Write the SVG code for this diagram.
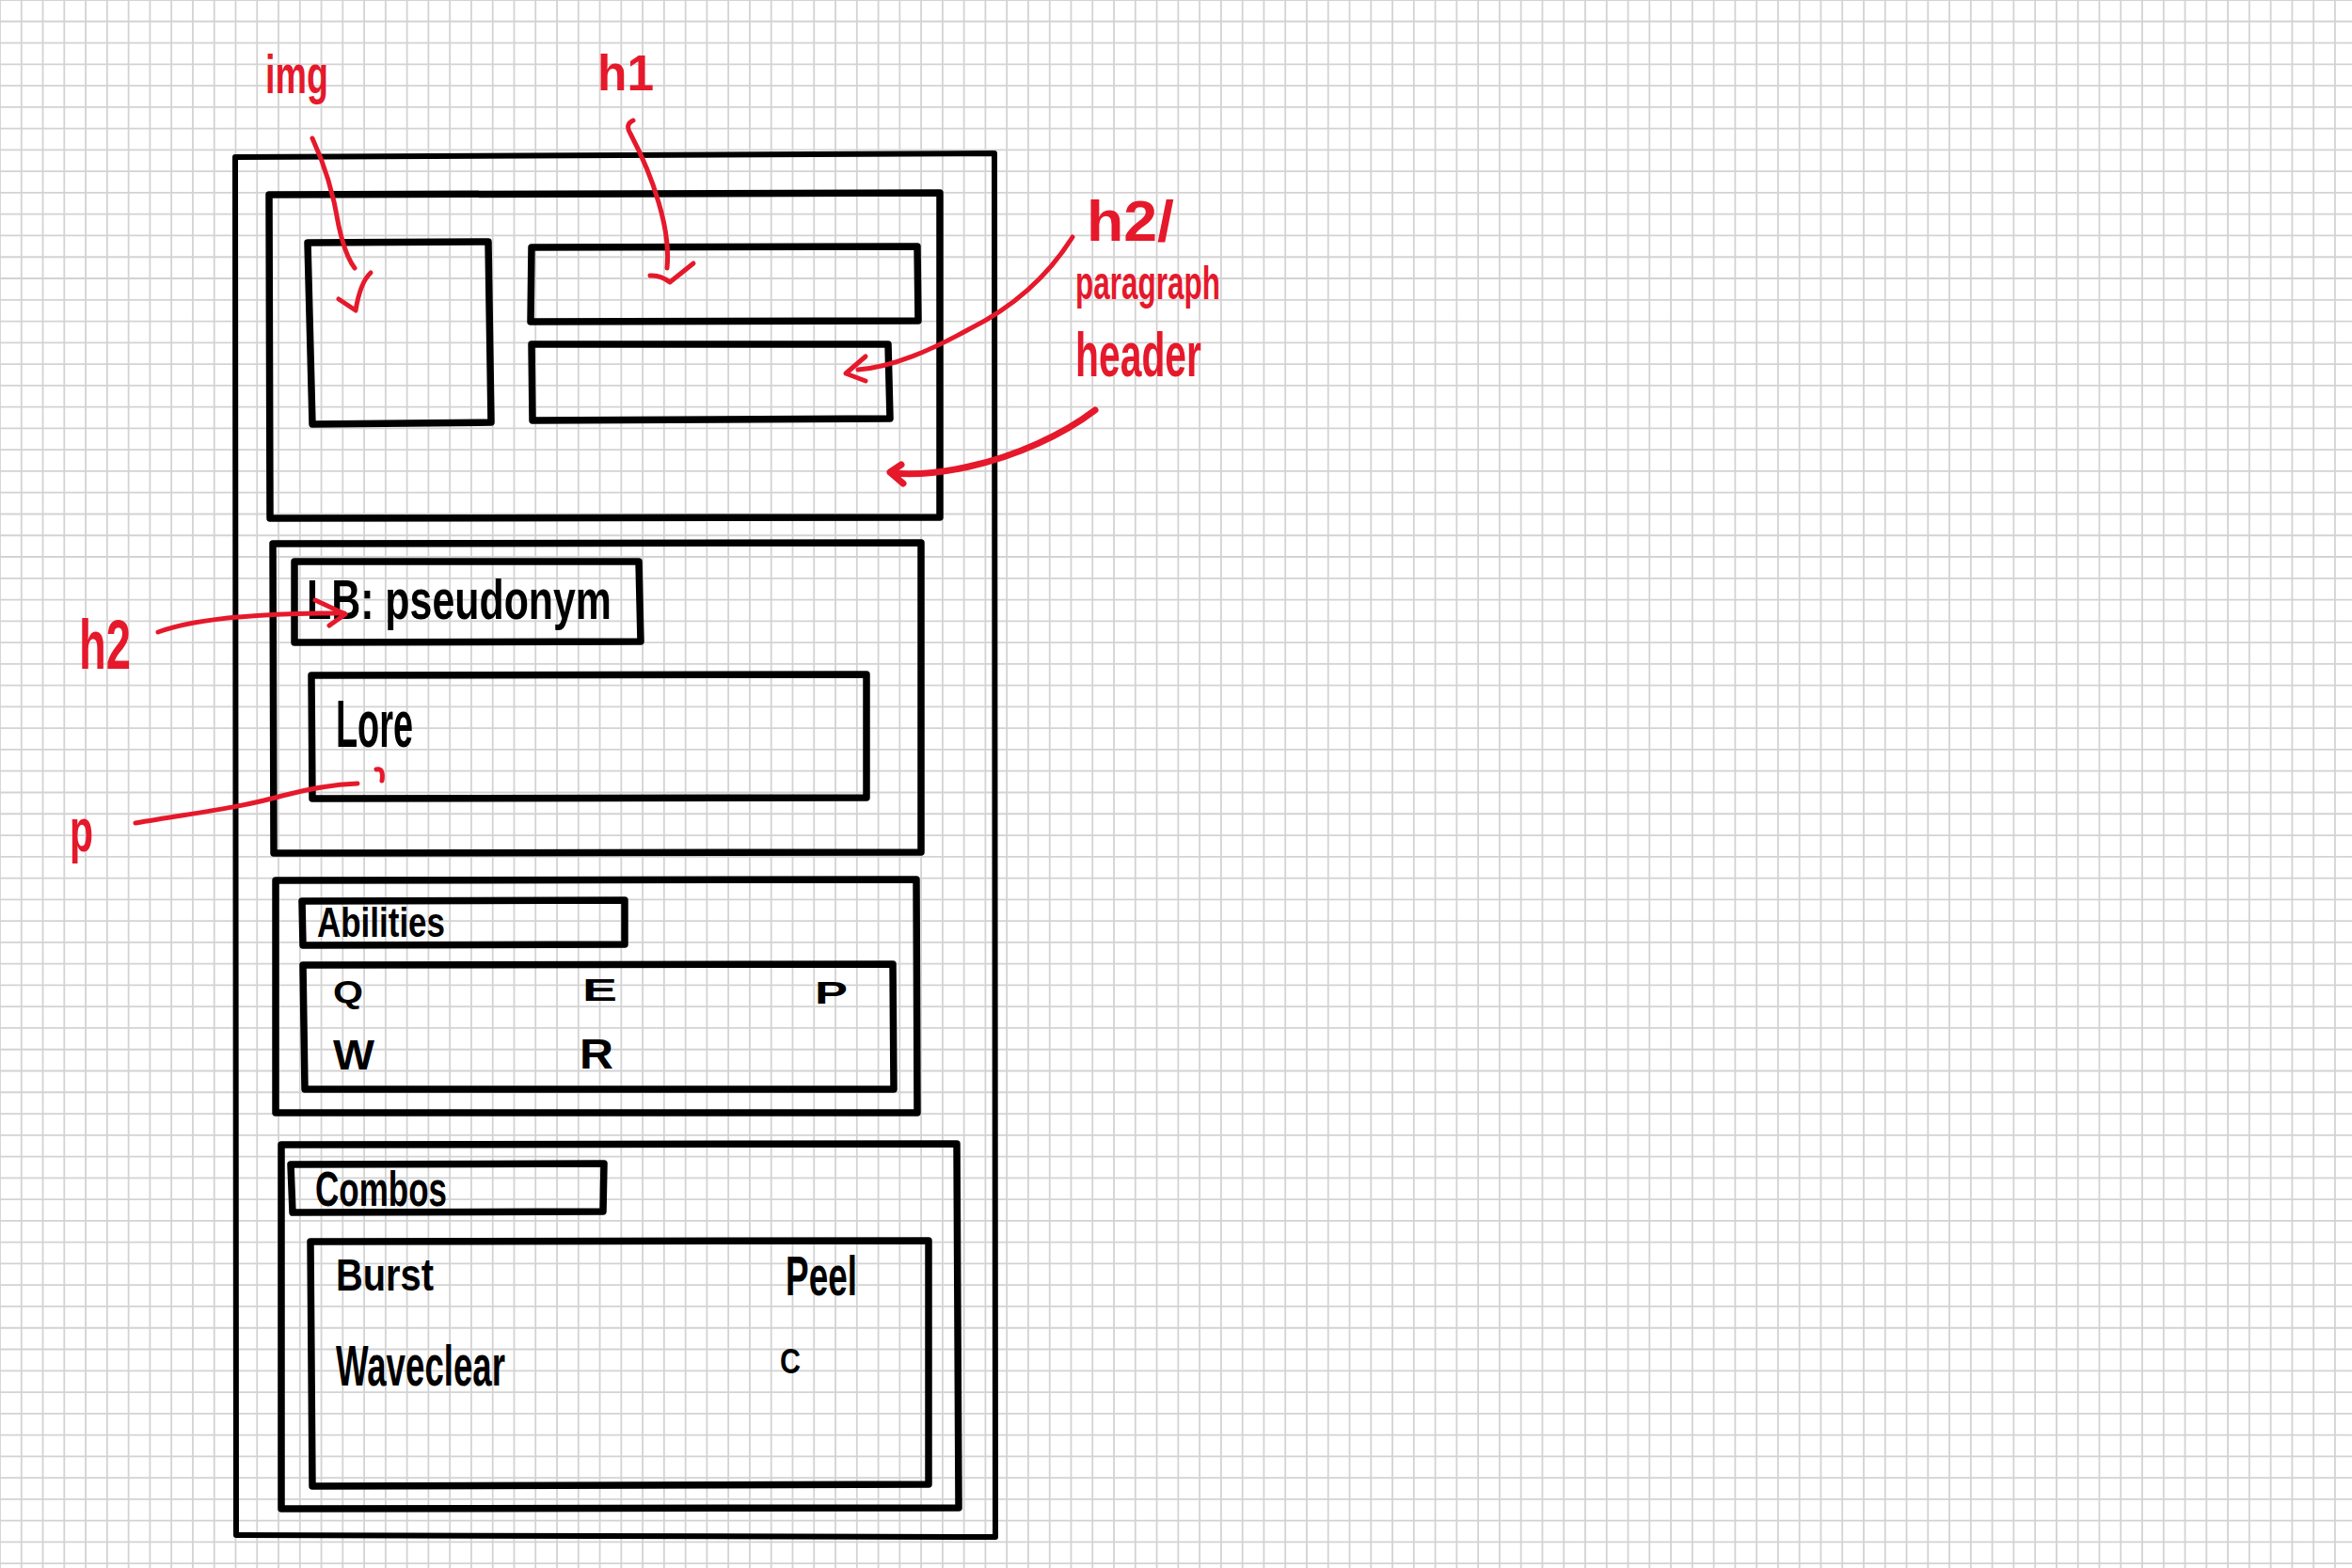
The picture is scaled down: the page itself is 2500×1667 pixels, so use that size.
<svg xmlns="http://www.w3.org/2000/svg" width="2500" height="1667" viewBox="0 0 2500 1667">
<style>
.grid{fill:none;stroke:#d3d3d3;stroke-width:1.8}
.box{fill:none;stroke:#000;stroke-width:7.5;stroke-linecap:round;stroke-linejoin:round}
.outer{stroke-width:6}
.ann{fill:none;stroke:#e5192b;stroke-width:5;stroke-linecap:round;stroke-linejoin:round}
.thick{stroke-width:7}
.rt{fill:#e5192b;font-family:"Liberation Sans",Arial,sans-serif;font-weight:bold}
.bt{fill:#000;font-family:"Liberation Sans",Arial,sans-serif;font-weight:bold}
</style>
<rect width="2500" height="1667" fill="#fff"/>
<path class="grid" d="M0 0V1667M22.77 0V1667M45.54 0V1667M68.31 0V1667M91.08 0V1667M113.85 0V1667M136.62 0V1667M159.39 0V1667M182.16 0V1667M204.93 0V1667M227.7 0V1667M250.47 0V1667M273.24 0V1667M296.01 0V1667M318.78 0V1667M341.55 0V1667M364.32 0V1667M387.09 0V1667M409.86 0V1667M432.63 0V1667M455.4 0V1667M478.17 0V1667M500.94 0V1667M523.71 0V1667M546.48 0V1667M569.25 0V1667M592.02 0V1667M614.79 0V1667M637.56 0V1667M660.33 0V1667M683.1 0V1667M705.87 0V1667M728.64 0V1667M751.41 0V1667M774.18 0V1667M796.95 0V1667M819.72 0V1667M842.49 0V1667M865.26 0V1667M888.03 0V1667M910.8 0V1667M933.57 0V1667M956.34 0V1667M979.11 0V1667M1001.88 0V1667M1024.65 0V1667M1047.42 0V1667M1070.19 0V1667M1092.96 0V1667M1115.73 0V1667M1138.5 0V1667M1161.27 0V1667M1184.04 0V1667M1206.81 0V1667M1229.58 0V1667M1252.35 0V1667M1275.12 0V1667M1297.89 0V1667M1320.66 0V1667M1343.43 0V1667M1366.2 0V1667M1388.97 0V1667M1411.74 0V1667M1434.51 0V1667M1457.28 0V1667M1480.05 0V1667M1502.82 0V1667M1525.59 0V1667M1548.36 0V1667M1571.13 0V1667M1593.9 0V1667M1616.67 0V1667M1639.44 0V1667M1662.21 0V1667M1684.98 0V1667M1707.75 0V1667M1730.52 0V1667M1753.29 0V1667M1776.06 0V1667M1798.83 0V1667M1821.6 0V1667M1844.37 0V1667M1867.14 0V1667M1889.91 0V1667M1912.68 0V1667M1935.45 0V1667M1958.22 0V1667M1980.99 0V1667M2003.76 0V1667M2026.53 0V1667M2049.3 0V1667M2072.07 0V1667M2094.84 0V1667M2117.61 0V1667M2140.38 0V1667M2163.15 0V1667M2185.92 0V1667M2208.69 0V1667M2231.46 0V1667M2254.23 0V1667M2277 0V1667M2299.77 0V1667M2322.54 0V1667M2345.31 0V1667M2368.08 0V1667M2390.85 0V1667M2413.62 0V1667M2436.39 0V1667M2459.16 0V1667M2481.93 0V1667M0 0H2500M0 22.77H2500M0 45.54H2500M0 68.31H2500M0 91.08H2500M0 113.85H2500M0 136.62H2500M0 159.39H2500M0 182.16H2500M0 204.93H2500M0 227.7H2500M0 250.47H2500M0 273.24H2500M0 296.01H2500M0 318.78H2500M0 341.55H2500M0 364.32H2500M0 387.09H2500M0 409.86H2500M0 432.63H2500M0 455.4H2500M0 478.17H2500M0 500.94H2500M0 523.71H2500M0 546.48H2500M0 569.25H2500M0 592.02H2500M0 614.79H2500M0 637.56H2500M0 660.33H2500M0 683.1H2500M0 705.87H2500M0 728.64H2500M0 751.41H2500M0 774.18H2500M0 796.95H2500M0 819.72H2500M0 842.49H2500M0 865.26H2500M0 888.03H2500M0 910.8H2500M0 933.57H2500M0 956.34H2500M0 979.11H2500M0 1001.88H2500M0 1024.65H2500M0 1047.42H2500M0 1070.19H2500M0 1092.96H2500M0 1115.73H2500M0 1138.5H2500M0 1161.27H2500M0 1184.04H2500M0 1206.81H2500M0 1229.58H2500M0 1252.35H2500M0 1275.12H2500M0 1297.89H2500M0 1320.66H2500M0 1343.43H2500M0 1366.2H2500M0 1388.97H2500M0 1411.74H2500M0 1434.51H2500M0 1457.28H2500M0 1480.05H2500M0 1502.82H2500M0 1525.59H2500M0 1548.36H2500M0 1571.13H2500M0 1593.9H2500M0 1616.67H2500M0 1639.44H2500M0 1662.21H2500"/>

<g id="page">
  <path class="box outer" d="M250 167L1057 163L1058 1634L251 1632Z"/>
</g>
<g id="header">
  <path class="box" d="M286 207L999 205L999 550L287 551Z"/>
</g>
<g id="img-box">
  <path class="box" d="M327 258L519 257L522 449L332 451Z"/>
</g>
<g id="h1-box">
  <path class="box" d="M565 263L975 262L976 341L564 342Z"/>
</g>
<g id="h2-box">
  <path class="box" d="M565 366L944 366L946 445L566 447Z"/>
</g>
<g id="lb-section">
  <path class="box" d="M290 578L979 577L979 906L291 907Z"/>
</g>
<g id="lb-title">
  <path class="box" d="M313 597L679 597L681 682L313 683Z"/>
  <text class="bt" x="326" y="658" font-size="60" textLength="324" lengthAdjust="spacingAndGlyphs">LB: pseudonym</text>
</g>
<g id="lore">
  <path class="box" d="M331 718L921 717L921 848L332 849Z"/>
  <text class="bt" x="357" y="794" font-size="70" textLength="82" lengthAdjust="spacingAndGlyphs">Lore</text>
</g>
<g id="abilities-section">
  <path class="box" d="M293 936L974 935L975 1183L293 1183Z"/>
</g>
<g id="abilities-title">
  <path class="box" d="M321 958L664 957L664 1004L322 1005Z"/>
  <text class="bt" x="337" y="996" font-size="44" textLength="136" lengthAdjust="spacingAndGlyphs">Abilities</text>
</g>
<g id="abilities-list">
  <path class="box" d="M322 1026L949 1025L950 1158L324 1158Z"/>
  <text class="bt" x="354" y="1066" font-size="34" textLength="32" lengthAdjust="spacingAndGlyphs">Q</text>
  <text class="bt" x="619" y="1064" font-size="34" textLength="37" lengthAdjust="spacingAndGlyphs">E</text>
  <text class="bt" x="866" y="1067" font-size="34" textLength="35" lengthAdjust="spacingAndGlyphs">P</text>
  <text class="bt" x="354" y="1137" font-size="44" textLength="44" lengthAdjust="spacingAndGlyphs">W</text>
  <text class="bt" x="616" y="1136" font-size="44" textLength="36" lengthAdjust="spacingAndGlyphs">R</text>
</g>
<g id="combos-section">
  <path class="box" d="M299 1217L1017 1216L1019 1603L299 1604Z"/>
</g>
<g id="combos-title">
  <path class="box" d="M309 1238L642 1237L641 1288L311 1289Z"/>
  <text class="bt" x="335" y="1282" font-size="52" textLength="140" lengthAdjust="spacingAndGlyphs">Combos</text>
</g>
<g id="combos-list">
  <path class="box" d="M330 1320L987 1319L987 1578L332 1580Z"/>
  <text class="bt" x="357" y="1372" font-size="48" textLength="104" lengthAdjust="spacingAndGlyphs">Burst</text>
  <text class="bt" x="835" y="1377" font-size="60" textLength="76" lengthAdjust="spacingAndGlyphs">Peel</text>
  <text class="bt" x="357" y="1473" font-size="62" textLength="180" lengthAdjust="spacingAndGlyphs">Waveclear</text>
  <text class="bt" x="829" y="1460" font-size="36" textLength="22" lengthAdjust="spacingAndGlyphs">C</text>
</g>

<g id="label-img"><text class="rt" x="282" y="99" font-size="58" textLength="67" lengthAdjust="spacingAndGlyphs">img</text></g>
<g id="label-h1"><text class="rt" x="635" y="96" font-size="54" textLength="60" lengthAdjust="spacingAndGlyphs">h1</text></g>
<g id="label-h2-paragraph">
  <text class="rt" x="1155" y="256" font-size="62" textLength="93" lengthAdjust="spacingAndGlyphs">h2/</text>
  <text class="rt" x="1143" y="318" font-size="50" textLength="154" lengthAdjust="spacingAndGlyphs">paragraph</text>
</g>
<g id="label-header"><text class="rt" x="1143" y="400" font-size="66" textLength="134" lengthAdjust="spacingAndGlyphs">header</text></g>
<g id="label-h2"><text class="rt" x="84" y="711" font-size="74" textLength="55" lengthAdjust="spacingAndGlyphs">h2</text></g>
<g id="label-p"><text class="rt" x="74" y="905" font-size="64" textLength="25" lengthAdjust="spacingAndGlyphs">p</text></g>

<g id="connectors">
  <path class="ann" d="M332 147Q352 190 360 240Q367 272 377 285"/>
  <path class="ann" d="M360 318L378 330Q383 300 394 290"/>
  <path class="ann" d="M673 128Q664 132 670 142Q690 180 700 215Q712 255 709 285"/>
  <path class="ann" d="M691 293Q702 292 712 300L737 280"/>
  <path class="ann" d="M1140 252C1110 300 1070 330 1030 350C990 372 950 390 912 393"/>
  <path class="ann" d="M920 379L899 397L920 405"/>
  <path class="ann thick" d="M1164 436C1130 462 1080 485 1030 496C995 504 970 505 948 503"/>
  <path class="ann thick" d="M958 494L946 502L960 514"/>
  <path class="ann" d="M168 672C200 660 260 653 340 652L366 652"/>
  <path class="ann" d="M335 638L367 653L350 665"/>
  <path class="ann" d="M144 875C200 865 250 860 300 846C330 838 355 834 380 833"/>
  <path class="ann" d="M400 818Q408 816 406 830"/>
</g>
</svg>
